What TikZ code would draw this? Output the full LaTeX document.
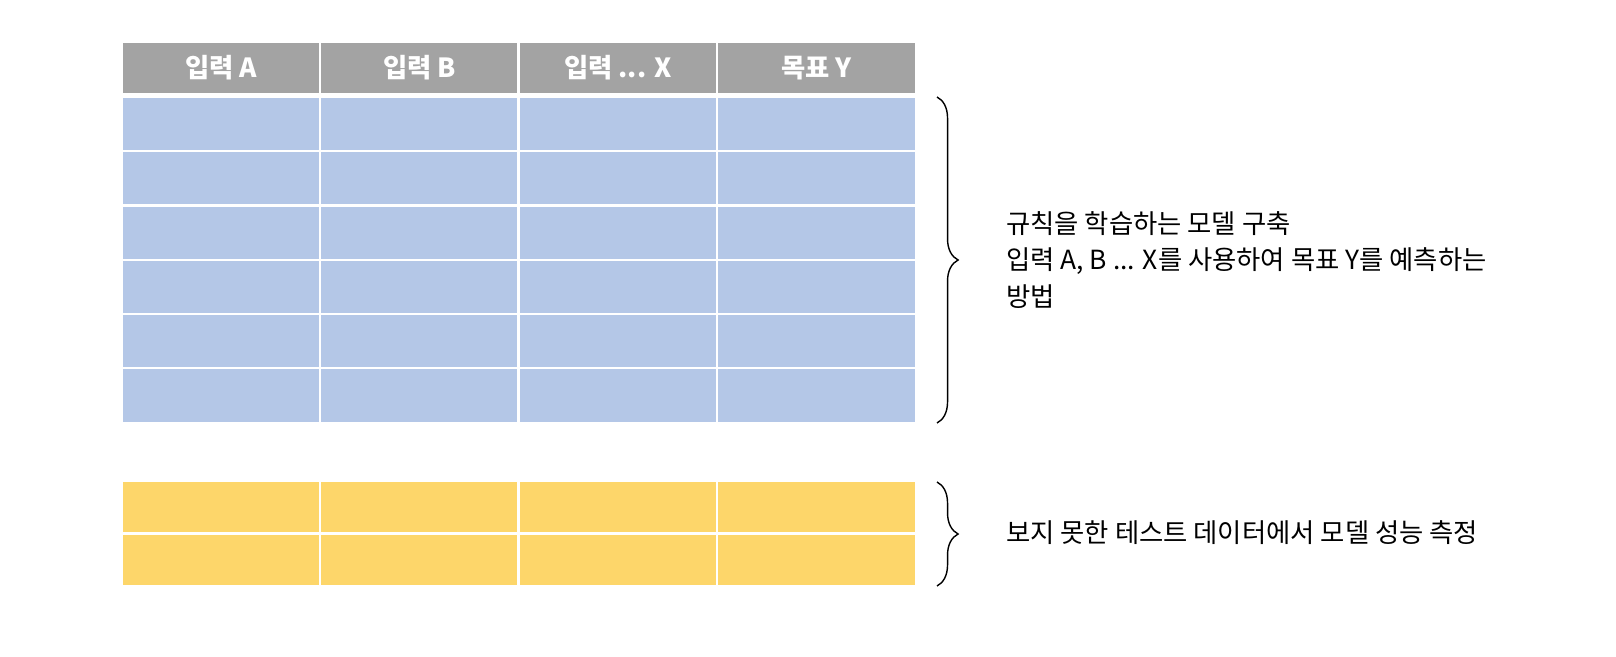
\documentclass[tikz,border=0pt]{standalone}
\usepackage{fontspec}
\setmainfont{Noto Sans CJK KR}
\usetikzlibrary{decorations.pathreplacing}
\newcommand\etcdots{...}
\begin{document}
\begin{tikzpicture}[x=0.02cm,y=-0.02cm,
  cell/.style={draw=white,line width=1.2pt,minimum width=0.02cm*199,inner sep=0pt},
  brc/.style={decorate,decoration={brace,amplitude=12pt},thick,black},
  lbl/.style={anchor=west,font=\fontsize{15pt}{21pt}\selectfont,align=left}]
  % colors
  \definecolor{kGrey}{HTML}{A3A3A3}
  \definecolor{kBlue}{HTML}{B4C7E7}
  \definecolor{kYellow}{HTML}{FDD66A}
  % frame
  \useasboundingbox (0,0) rectangle (1616,656);
  % header
  \foreach \t [count=\i from 0] in {입력 A,입력 B,입력 \etcdots{} X,목표 Y} {
    \node[cell,fill=kGrey,minimum height=0.02cm*52,
      text=white,font=\bfseries\fontsize{15pt}{18pt}\selectfont] (h\i) at (221+\i*198.5,68) {\t};
  }
  % training rows
  \foreach \r in {0,1,2,3,4,5} {
    \foreach \i in {0,1,2,3} {
      \node[cell,fill=kBlue,minimum height=0.02cm*54.3] (b\r\i) at (221+\i*198.5,124+\r*54.3) {};
    }
  }
  % test rows
  \foreach \r in {0,1} {
    \foreach \i in {0,1,2,3} {
      \node[cell,fill=kYellow,minimum height=0.02cm*53] (y\r\i) at (221+\i*198.5,507+\r*53) {};
    }
  }
  % braces
  \coordinate (t1) at (937,97);
  \coordinate (t2) at (937,423);
  \coordinate (s1) at (937,482);
  \coordinate (s2) at (937,586);
  \draw[brc] (t1) -- (t2);
  \draw[brc] (s1) -- (s2);
  % labels
  \node[lbl] (train) at (1000,260) {규칙을 학습하는 모델 구축\\입력 A, B \etcdots{} X를 사용하여 목표 Y를 예측하는\\방법};
  \node[lbl] (test) at (1000,533) {보지 못한 테스트 데이터에서 모델 성능 측정};
\end{tikzpicture}
\end{document}
